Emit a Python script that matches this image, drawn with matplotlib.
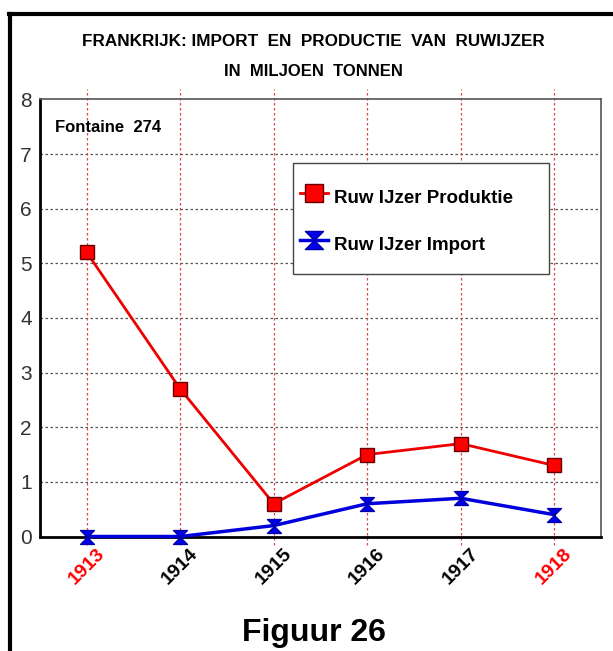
import matplotlib
matplotlib.use("Agg")
import matplotlib.pyplot as plt
from matplotlib.path import Path
from matplotlib.lines import Line2D
from matplotlib.patches import Rectangle
import matplotlib.transforms as mtransforms
import numpy as np

plt.rcParams['font.family'] = ['Liberation Sans', 'DejaVu Sans']

years = ["1913", "1914", "1915", "1916", "1917", "1918"]
year_colors = ["red", "black", "black", "black", "black", "red"]
produktie = [5.2, 2.7, 0.6, 1.5, 1.7, 1.3]
importv = [0.0, 0.0, 0.2, 0.6, 0.7, 0.4]
yticks = [0, 1, 2, 3, 4, 5, 6, 7, 8]

fig = plt.figure(figsize=(6.13, 6.51), dpi=100)
ax = fig.add_axes([40/613, 1-536.5/651, 561/613, 437/651])

x = np.arange(len(years))

hourglass = Path([(-1, 1), (1, 1), (-1, -1), (1, -1), (-1, 1)],
                 [Path.MOVETO, Path.LINETO, Path.LINETO, Path.LINETO, Path.CLOSEPOLY])

ax.plot(x, produktie, color='#ee0000', lw=2, marker='s', ms=10,
        mfc='red', mec='#660000', mew=1, label='Ruw IJzer Produktie', zorder=5, clip_on=False)
ax.plot(x, importv, color='#0000dd', lw=2.5, marker=hourglass, ms=10,
        mfc='#0000ee', mec='#0000aa', mew=1, label='Ruw IJzer Import', zorder=5, clip_on=False)

ax.set_xlim(-0.5, 5.5)
ax.set_ylim(0, 8)
ax.set_yticks(yticks)
ax.set_yticklabels([str(v) for v in yticks], fontsize=15, color='#333333')
ax.set_xticks(x)
ax.set_xticklabels(years, rotation=45, ha='center', fontsize=14, fontweight='bold')
offset = mtransforms.ScaledTranslation(-12/100, 0, fig.dpi_scale_trans)
for lbl, c in zip(ax.get_xticklabels(), year_colors):
    lbl.set_color(c)
    lbl.set_transform(lbl.get_transform() + offset)
ax.tick_params(axis='both', length=0)
ax.tick_params(axis='y', pad=6)
ax.tick_params(axis='x', pad=6)

for yv in range(1, 8):
    ax.axhline(yv, color='#555555', lw=0.9, ls=(0, (2, 2)), zorder=1)
ax.vlines(x, -0.15, 8.2, color='#dd4444', lw=0.9, linestyles=(0, (2, 2)),
          zorder=1, clip_on=False)

for s in ['top', 'right']:
    ax.spines[s].set_color('#555555')
    ax.spines[s].set_linewidth(1.2)
for s in ['left', 'bottom']:
    ax.spines[s].set_color('black')
    ax.spines[s].set_linewidth(2)

ax.text(0.027, 0.935, 'Fontaine  274', transform=ax.transAxes, fontsize=12,
        fontweight='bold', va='center', ha='left')

# legend frame drawn as a plain rectangle, legend content placed inside it
box_l, box_t, box_r, box_b = 293, 163, 549, 274
ax.add_patch(Rectangle(((box_l-40)/561, (536.5-box_b)/437), (box_r-box_l)/561,
                       (box_b-box_t)/437, transform=ax.transAxes, facecolor='white',
                       edgecolor='#444444', lw=1, zorder=6))
leg = ax.legend(loc='upper left', bbox_to_anchor=((300-40)/561, 1-(183-99.5)/437),
                prop={'weight': 'bold', 'size': 13.5}, frameon=False,
                borderpad=0, labelspacing=0.93, handleheight=2.0, handlelength=1.5,
                handletextpad=0.3, borderaxespad=0)
leg.set_zorder(7)
for h in leg.legend_handles:
    h.set_markersize(13)

fig.text(313/613, 1-41/651, 'FRANKRIJK: IMPORT  EN  PRODUCTIE  VAN  RUWIJZER',
         ha='center', va='center', fontsize=12.3, fontweight='bold')
fig.text(313/613, 1-72/651, 'IN  MILJOEN  TONNEN', ha='center', va='center',
         fontsize=12, fontweight='bold')
fig.text(314/613, 1-633/651, 'Figuur 26', ha='center', va='center',
         fontsize=23, fontweight='bold')

fig.add_artist(Line2D([10/613, 10/613], [0, 1-14/651], color='black', lw=3,
                      transform=fig.transFigure))
fig.add_artist(Line2D([8.5/613, 1], [1-14/651, 1-14/651], color='black', lw=3,
                      transform=fig.transFigure))

fig.savefig('out.png', dpi=100)
